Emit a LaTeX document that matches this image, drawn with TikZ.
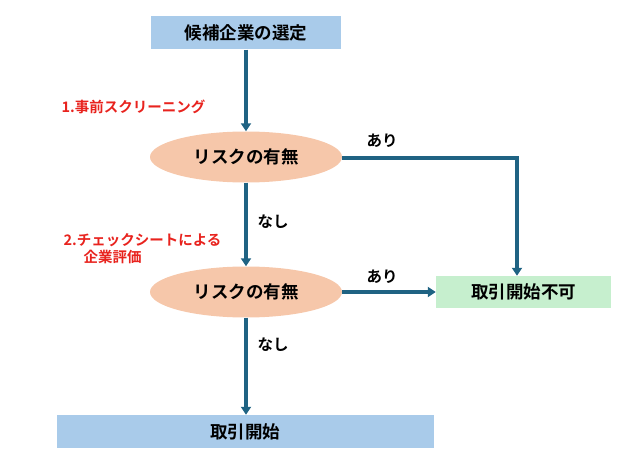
\documentclass[tikz,border=0pt]{standalone}
\usepackage{fontspec}
\setmainfont{Noto Sans CJK JP}[BoldFont={Noto Sans CJK JP Bold}]
\usetikzlibrary{arrows.meta,shapes.geometric}

\definecolor{boxblue}{HTML}{A9CBEA}
\definecolor{boxgreen}{HTML}{C6EFCE}
\definecolor{ovalpink}{HTML}{F6C7AA}
\definecolor{flowline}{HTML}{1F6383}
\definecolor{notered}{HTML}{E8231E}

\begin{document}
\begin{tikzpicture}[x=1pt,y=-1pt,
    stepbox/.style={rectangle,inner sep=0pt,font=\bfseries\fontsize{17.5}{20}\selectfont},
    riskoval/.style={ellipse,fill=ovalpink,minimum width=192pt,minimum height=51pt,inner sep=0pt,font=\bfseries\fontsize{17.5}{20}\selectfont},
    flow/.style={line width=3.2pt,draw=flowline,-{Triangle[width=10pt,length=8pt]}},
    branch/.style={font=\bfseries\fontsize{15.5}{18}\selectfont},
    note/.style={text=notered,font=\bfseries\fontsize{14.5}{16}\selectfont}]

    \useasboundingbox (0,0) rectangle (640,465);

    % boxes
    \node[stepbox,fill=boxblue,minimum width=190pt,minimum height=33pt] (select) at (246,33) {候補企業の選定};
    \node[riskoval] (risk1) at (246,157) {リスクの有無};
    \node[riskoval] (risk2) at (246,292) {リスクの有無};
    \node[stepbox,fill=boxgreen,minimum width=175pt,minimum height=32pt] (stop) at (523.5,292) {取引開始不可};
    \node[stepbox,fill=boxblue,minimum width=377pt,minimum height=33pt] (start) at (245,431.5) {取引開始};
    \coordinate (corner) at (517,158);

    %arrows
    \draw[flow] (select.south) -- (risk1.north);
    \draw[flow] (risk1.south) -- (risk2.north);
    \draw[flow] (risk2.south) -- (risk2.south |- start.north);
    \draw[flow] (risk1.east |- corner) -- (corner) -- (corner |- stop.north);
    \draw[flow] (risk2.east) -- (stop.west);

    %labels
    \node[branch] (yes1) at (382,141) {あり};
    \node[branch] (yes2) at (382,277) {あり};
    \node[branch] (no1) at (273,222) {なし};
    \node[branch] (no2) at (273,345) {なし};
    \node[note,anchor=west] (check1) at (58,107) {1.事前スクリーニング};
    \node[note,anchor=west] (check2) at (60,240) {2.チェックシートによる};
    \node[note,anchor=west] (check2b) at (80,257) {企業評価};
\end{tikzpicture}
\end{document}
